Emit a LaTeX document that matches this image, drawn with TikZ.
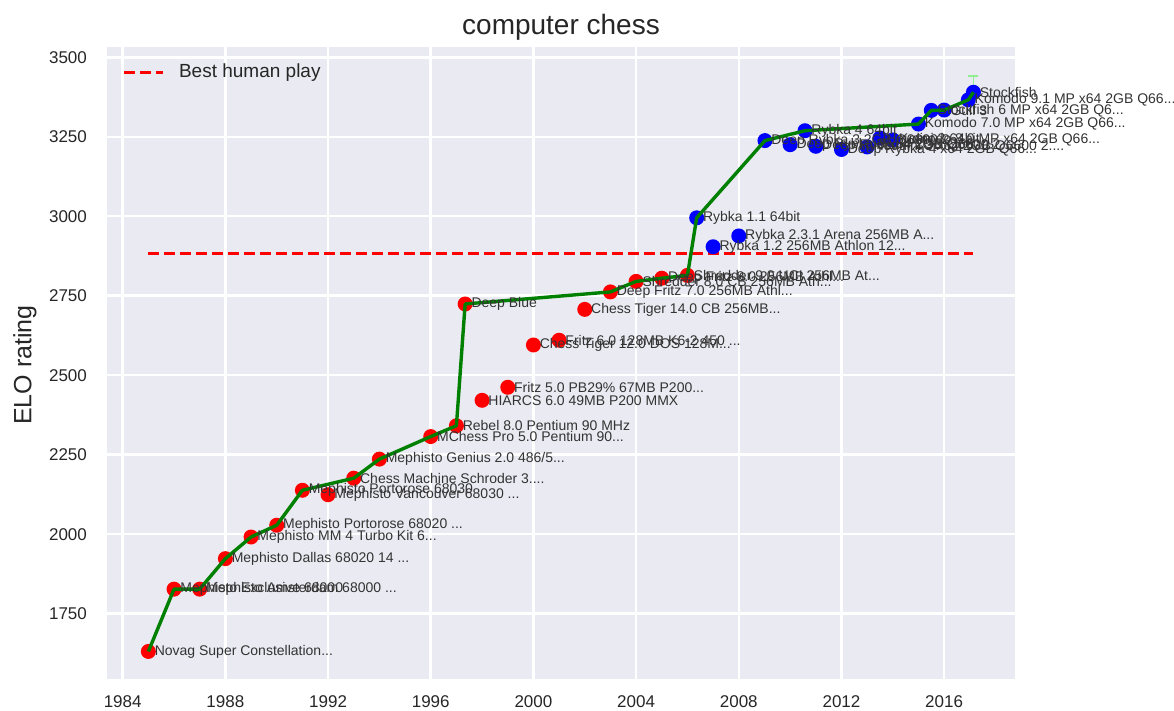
\documentclass[tikz,border=0pt]{standalone}
\usepackage{fontspec}
\setmainfont{Liberation Sans}
\usepackage{tikz}
\usetikzlibrary{calc}
\definecolor{panel}{HTML}{EAEAF2}
\definecolor{ink}{HTML}{262626}
\definecolor{labink}{HTML}{333333}
\definecolor{rec}{HTML}{008000}
\definecolor{human}{HTML}{FF0000}
\definecolor{early}{HTML}{FF0000}
\definecolor{late}{HTML}{0000FF}
\definecolor{errg}{HTML}{90EE90}
\tikzset{
  gridl/.style={draw=white, line width=1.25pt},
  tick/.style={text=ink, font=\fontsize{8.5}{10}\selectfont},
  lab/.style={text=labink, font=\fontsize{7}{8}\selectfont, inner sep=3pt},
  record/.style={draw=rec, line width=1.7pt, line join=round},
  humanl/.style={draw=human, line width=1.5pt, dash pattern=on 5.5pt off 2.5pt},
  errbar/.style={draw=errg, line width=0.8pt},
  every node/.style={text=ink}
}
% number/year/elo/colour/label
\def\chessdata{%
  1/1985/1631/early/{Novag Super Constellation...},%
  2/1986/1827/early/{Mephisto Exclusive 68000},%
  3/1987/1827/early/{Mephisto Amsterdam 68000 ...},%
  4/1988/1923/early/{Mephisto Dallas 68020 14 ...},%
  5/1989/1991/early/{Mephisto MM 4 Turbo Kit 6...},%
  6/1990/2028/early/{Mephisto Portorose 68020 ...},%
  7/1991/2138/early/{Mephisto Portorose 68030},%
  8/1992/2124/early/{Mephisto Vancouver 68030 ...},%
  9/1993/2176/early/{Chess Machine Schroder 3....},%
  10/1994/2236/early/{Mephisto Genius 2.0 486/5...},%
  11/1996/2307/early/{MChess Pro 5.0 Pentium 90...},%
  12/1997/2341/early/{Rebel 8.0 Pentium 90 MHz},%
  13/1997.34/2724/early/{Deep Blue},%
  14/1998/2421/early/{HIARCS 6.0 49MB P200 MMX},%
  15/1999/2462/early/{Fritz 5.0 PB29\% 67MB P200...},%
  16/2000/2595/early/{Chess Tiger 12.0 DOS 128M...},%
  17/2001/2610/early/{Fritz 6.0 128MB K6-2 450 ...},%
  18/2002/2707/early/{Chess Tiger 14.0 CB 256MB...},%
  19/2003/2762/early/{Deep Fritz 7.0 256MB Athl...},%
  20/2004/2795/early/{Shredder 8.0 CB 256MB Ath...},%
  21/2005/2805/early/{Deep Fritz 8.0 256MB Athl...},%
  22/2006/2814/early/{Shredder 9.0 UCI 256MB At...},%
  23/2006.36/2995/late/{Rybka 1.1 64bit},%
  24/2007/2904/late/{Rybka 1.2 256MB Athlon 12...},%
  25/2008/2938/late/{Rybka 2.3.1 Arena 256MB A...},%
  26/2009.02/3238/late/{Deep Rybka 3 2GB Q6600 2....},%
  27/2010/3225/late/{Deep Rybka 3 x64 2GB Q66...},%
  28/2010.58/3269/late/{Rybka 4 64bit},%
  29/2011/3220/late/{Deep Rybka 4 2GB Q6600 2....},%
  30/2012/3210/late/{Deep Rybka 4 x64 2GB Q66...},%
  31/2013/3218/late/{Houdini 3 x64 2GB Q6600 2....},%
  32/2013.5/3246/late/{Houdini 3 64bit},%
  33/2014/3240/late/{Komodo 8.0 MP x64 2GB Q66...},%
  34/2015/3290/late/{Komodo 7.0 MP x64 2GB Q66...},%
  35/2015.5/3333/late/{Stockfish 6 MP x64 2GB Q6...},%
  36/2016/3334/late/{Gull 3},%
  37/2016.94/3366/late/{Komodo 9.1 MP x64 2GB Q66...},%
  38/2017.14/3390/late/{Stockfish}%
}

\begin{document}
\begin{tikzpicture}[x=0.5pt, y=-0.5pt]
  \useasboundingbox (0,0) rectangle (1174,711);
  \fill[panel] (107,47) rectangle (1015,679);

  \node[font=\fontsize{14}{16}\selectfont, anchor=base] (title) at (561,35) {computer chess};
  \node[font=\fontsize{12.5}{14}\selectfont, rotate=90] (ylab) at (25,365) {ELO rating};

  % data scope: x in years from 1984, y in elo from 1500
  \begin{scope}[shift={(122.7,693.1)}, x=12.835pt, y=0.15895pt]
    \foreach \yr in {1984,1988,...,2016}
      \draw[gridl] ({\yr-1984},44.4) -- ({\yr-1984},2032.4);
    \foreach \e in {1750,2000,...,3500}
      \draw[gridl] (-0.612,{\e-1500}) -- (34.76,{\e-1500});
    \foreach \yr in {1984,1988,...,2016}
      \node[tick] (x\yr) at ({\yr-1984},-28) {\yr};
    \foreach \e in {1750,2000,...,3500}
      \node[tick, anchor=east] (y\e) at (-1.12,{\e-1500}) {\e};

    % best human play
    \coordinate (hA) at (1,1383);
    \coordinate (hB) at (33.14,1383);
    \draw[humanl] (hA) -- (hB);

    % error bar on the last point
    \coordinate (eTop) at (33.14,1942);
    \coordinate (eBot) at (33.14,1838);
    \draw[errbar] (eBot) -- (eTop);
    \draw[errbar] ($(eTop)+(-2.5pt,0)$) -- ($(eTop)+(2.5pt,0)$);

    \foreach \n/\yr/\elo/\col/\txt in \chessdata {
      \coordinate (p\n) at ({\yr-1984},{\elo-1500});
      \fill[\col] (p\n) circle (3.75pt);
    }

    \draw[record] (p1) \foreach \k in {2,3,4,5,6,7,9,10,11,12,13,19,20,21,22,23,26,28,34,35,36,37,38} { -- (p\k) };

    \foreach \n/\yr/\elo/\col/\txt in \chessdata
      \node[lab, anchor=west] (l\n) at (p\n) {\txt};
  \end{scope}

  % legend
  \coordinate (keyA) at (124,73);
  \coordinate (keyB) at (163,73);
  \draw[humanl] (keyA) -- (keyB);
  \node[anchor=west, font=\fontsize{9.5}{11}\selectfont] (key) at (172,73) {Best human play};
\end{tikzpicture}
\end{document}
